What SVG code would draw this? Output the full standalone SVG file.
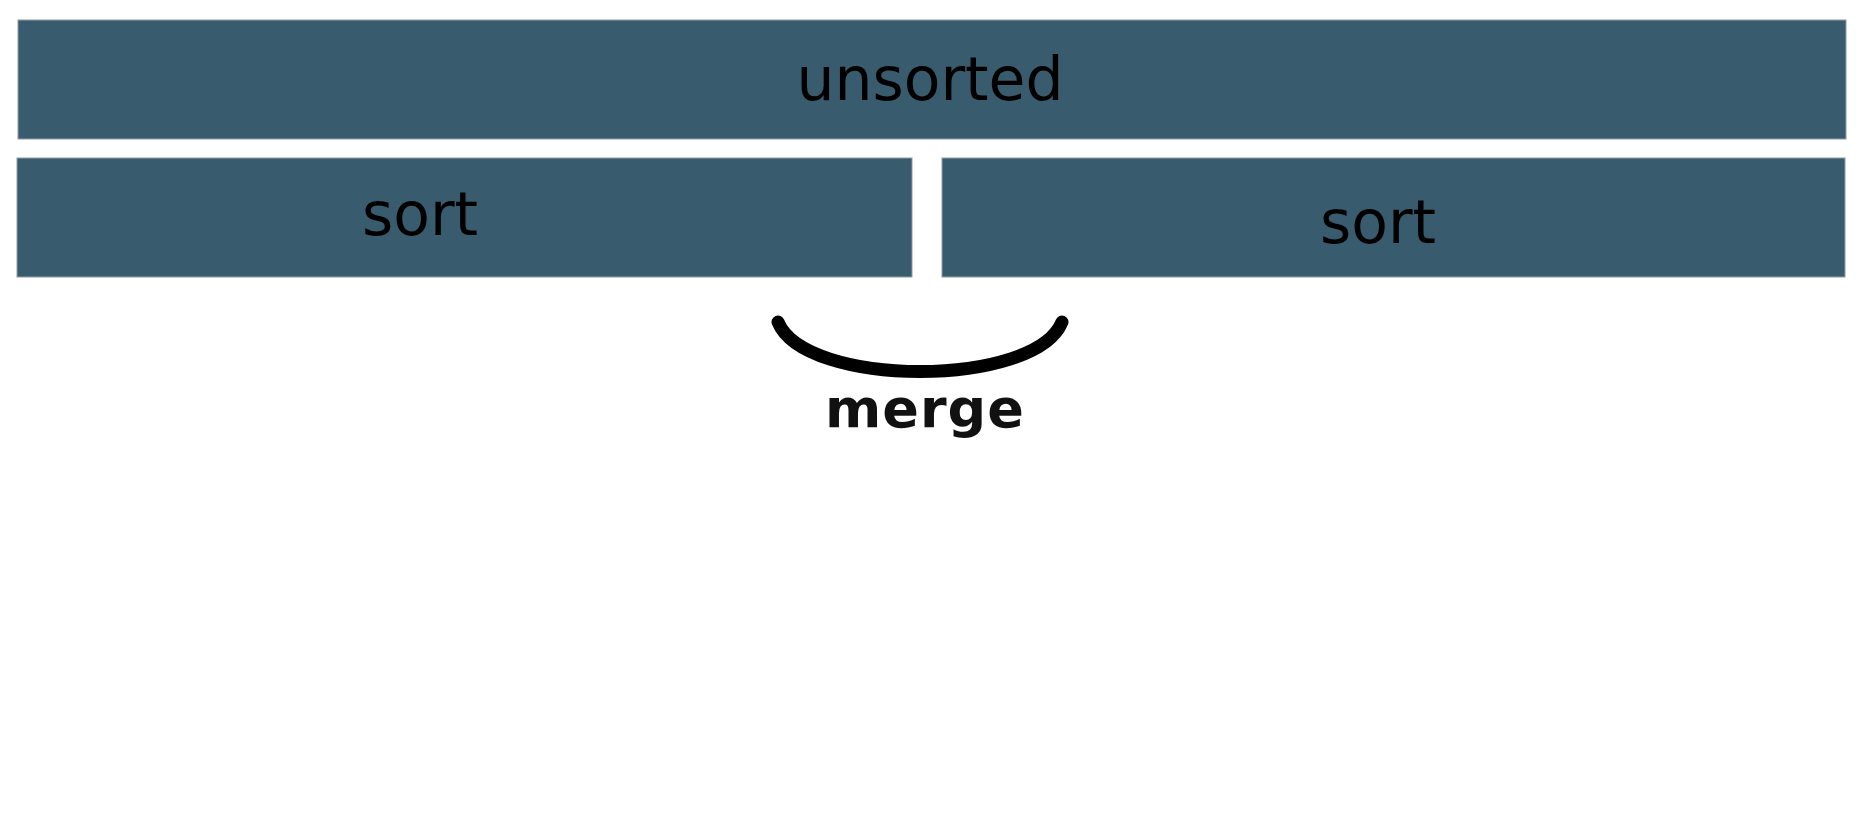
<svg xmlns="http://www.w3.org/2000/svg" width="1867" height="832" viewBox="0 0 1867 832">
  <style>
    .box { fill: #395b6e; stroke: #8f9ea6; stroke-width: 1; }
    .lbl { font-family: "DejaVu Sans", "Liberation Sans", sans-serif; fill: #000000; text-anchor: middle; }
    .merge { font-family: "DejaVu Sans", "Liberation Sans", sans-serif; font-weight: bold; fill: #111111; text-anchor: middle; letter-spacing: 1px; }
    .curve { fill: none; stroke: #000000; stroke-width: 13; stroke-linecap: round; }
  </style>
  <rect x="0" y="0" width="1867" height="832" fill="#ffffff"/>
  <g id="unsorted">
    <rect class="box" x="18" y="20" width="1828" height="119"/>
    <text class="lbl" x="930" y="100" font-size="60">unsorted</text>
  </g>
  <g id="sort-left">
    <rect class="box" x="17" y="158" width="895" height="119"/>
    <text class="lbl" x="420" y="235" font-size="60">sort</text>
  </g>
  <g id="sort-right">
    <rect class="box" x="942" y="158" width="903" height="119"/>
    <text class="lbl" x="1378" y="243" font-size="60">sort</text>
  </g>
  <g id="connectors">
    <path class="curve" d="M778,322 C805,388 1035,388 1062,322"/>
  </g>
  <g id="merge-label">
    <text class="merge" x="925" y="427" font-size="54">merge</text>
  </g>
</svg>
